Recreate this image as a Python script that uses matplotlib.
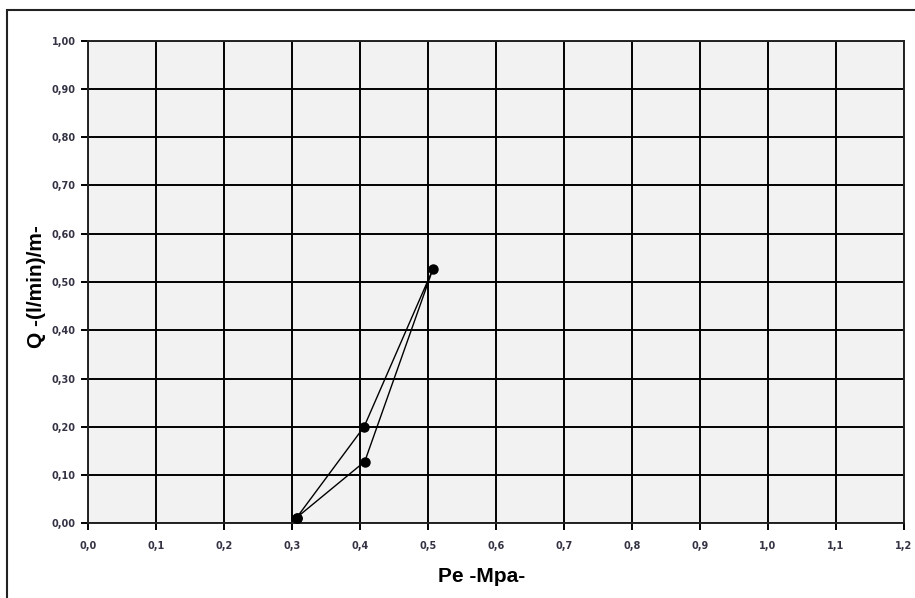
import matplotlib.pyplot as plt
from matplotlib.patches import Rectangle
from matplotlib.ticker import FuncFormatter

plt.rcParams['font.family'] = ['Liberation Sans', 'DejaVu Sans']

# pressure (MPa) and flow (l/min)/m, in test order
pressure = [0.307, 0.406, 0.507, 0.407, 0.307]
flow = [0.012, 0.200, 0.526, 0.128, 0.012]

x_ticks = [0.0, 0.1, 0.2, 0.3, 0.4, 0.5, 0.6, 0.7, 0.8, 0.9, 1.0, 1.1, 1.2]
y_ticks = [0.0, 0.1, 0.2, 0.3, 0.4, 0.5, 0.6, 0.7, 0.8, 0.9, 1.0]

fig = plt.figure(figsize=(9.15, 5.98), dpi=100)
fig.patches.append(Rectangle((7 / 915, -0.05), 1.2, 1 - 10 / 598 + 0.05,
                             transform=fig.transFigure, fill=False,
                             edgecolor='#222222', linewidth=1.5))

ax = fig.add_axes([88 / 915, 1 - 523.3 / 598, (904 - 88) / 915, (523.3 - 40.7) / 598])
ax.set_facecolor('#f2f2f2')

ax.plot(pressure, flow, color='black', linewidth=1.0, marker='o',
        markersize=6.5, zorder=3)

ax.set_xlim(0, 1.2)
ax.set_ylim(0, 1.0)
ax.set_xticks(x_ticks)
ax.set_yticks(y_ticks)
ax.xaxis.set_major_formatter(FuncFormatter(lambda v, p: f'{v:.1f}'.replace('.', ',')))
ax.yaxis.set_major_formatter(FuncFormatter(lambda v, p: f'{v:.2f}'.replace('.', ',')))
ax.grid(True, color='black', linewidth=1.4)
ax.set_axisbelow(True)
for s in ax.spines.values():
    s.set_linewidth(1.4)
    s.set_color('#222222')
ax.tick_params(axis='both', length=5, width=1.4, colors='black')
for lbl in ax.get_xticklabels() + ax.get_yticklabels():
    lbl.set_fontweight('bold')
    lbl.set_family('DejaVu Sans')
    lbl.set_fontsize(7)
    lbl.set_color('#333344')
ax.tick_params(axis='x', pad=8)
ax.tick_params(axis='y', pad=4)

ax.set_xlabel('Pe -Mpa-', fontsize=15, fontweight='bold')
ax.set_ylabel('Q -(l/min)/m-', fontsize=15, fontweight='bold')
ax.xaxis.set_label_coords((482 - 88) / 816, -(576 - 523.3) / 482.6)
ax.yaxis.set_label_coords(-(88 - 37) / 816, 0.49)
ax.xaxis.label.set_va('center')
ax.yaxis.label.set_va('center')

plt.savefig('out.png', dpi=100)
